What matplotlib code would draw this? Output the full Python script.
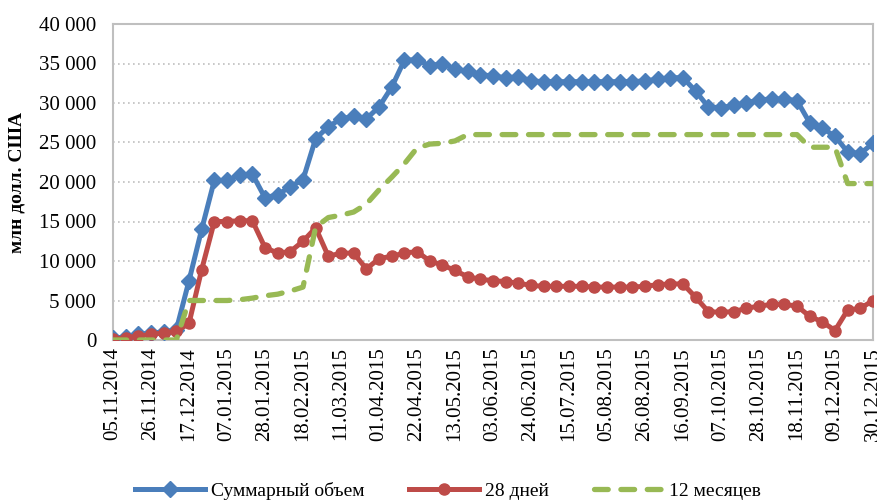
import numpy as np
import pandas as pd
import matplotlib
matplotlib.use("Agg")
from matplotlib import pyplot as plt
from matplotlib.ticker import FuncFormatter

plt.rcParams['font.family'] = ['Liberation Serif', 'DejaVu Serif']

# weekly dates, 05.11.2014 .. 30.12.2015
dates = pd.date_range("2014-11-05", periods=61, freq="7D")

total = [200, 400, 700, 900, 1000, 1300, 7500, 14000, 20200, 20200,
         20900, 21000, 18000, 18400, 19400, 20300, 25500, 27000, 28000, 28300,
         28000, 29500, 32000, 35400, 35500, 34700, 35000, 34300, 34000, 33600,
         33400, 33200, 33300, 32800, 32700, 32700, 32700, 32700, 32700, 32700,
         32700, 32700, 32800, 33000, 33200, 33200, 31500, 29500, 29400, 29700,
         30000, 30400, 30500, 30500, 30300, 27500, 26800, 25800, 23800, 23600,
         24900]

days28 = [100, 300, 500, 700, 900, 1100, 2100, 8900, 15000, 15000,
          15100, 15100, 11700, 11000, 11200, 12500, 14200, 10600, 11000, 11000,
          9000, 10300, 10600, 11000, 11200, 10000, 9500, 8800, 8000, 7700,
          7500, 7400, 7200, 6900, 6800, 6800, 6800, 6800, 6700, 6700,
          6700, 6700, 6800, 7000, 7100, 7100, 5400, 3600, 3500, 3600,
          4000, 4300, 4500, 4500, 4300, 3000, 2300, 1200, 3800, 4000,
          5000]

months12 = [0, 0, 0, 0, 0, 0, 5000, 5000, 5000, 5000,
            5100, 5300, 5600, 5800, 6200, 6700, 14300, 15500, 15800, 16200,
            17200, 19000, 20600, 22300, 24300, 24800, 24900, 25200, 26000, 26000,
            26000, 26000, 26000, 26000, 26000, 26000, 26000, 26000, 26000, 26000,
            26000, 26000, 26000, 26000, 26000, 26000, 26000, 26000, 26000, 26000,
            26000, 26000, 26000, 26000, 26000, 24400, 24400, 24400, 19800, 19800,
            19800]

labels = ["Суммарный объем", "28 дней", "12 месяцев"]

fig = plt.figure(figsize=(8.77, 5.01), dpi=100)
ax = fig.add_axes([113 / 877, 1 - 340 / 501, 760 / 877, 316 / 501])

ax.plot(dates, total, color="#4A7EBB", lw=3.6, marker="D", ms=8,
        mec="#4A7EBB", label=labels[0], zorder=3)
ax.plot(dates, days28, color="#BE4B48", lw=3.6, marker="o", ms=8,
        mec="#BE4B48", label=labels[1], zorder=4)
ax.plot(dates, months12, color="#98B954", lw=3.8, dashes=(2.6, 2.4),
        dash_capstyle="round", label=labels[2], zorder=5)

ax.set_xlim(dates[0], dates[-1])
ax.set_ylim(0, 40000)
ax.set_yticks(np.arange(0, 40001, 5000))
ax.yaxis.set_major_formatter(FuncFormatter(lambda v, p: f"{int(v):,}".replace(",", " ")))
ax.set_xticks(dates[::3])
ax.set_xticklabels([d.strftime("%d.%m.%Y") for d in dates[::3]], rotation=90)
ax.tick_params(axis="y", length=0, pad=12, labelsize=15)
ax.tick_params(axis="x", length=0, pad=5, labelsize=15)

ax.grid(axis="y", color="#BFBFBF", linestyle=(0, (1, 2)), lw=1.2)
ax.set_axisbelow(True)
for s in ax.spines.values():
    s.set_color("#BFBFBF")
    s.set_linewidth(1.5)

fig.text(0.019, 1 - 182 / 501, "млн долл. США", rotation=90, fontsize=14,
         fontweight="bold", ha="center", va="center")

fig.legend(loc="center", bbox_to_anchor=(0.511, 0.02), ncol=3, frameon=False,
           fontsize=14, handlelength=3.6, handletextpad=0.3,
           columnspacing=2.3, numpoints=1)

fig.savefig("out.png", dpi=100)
